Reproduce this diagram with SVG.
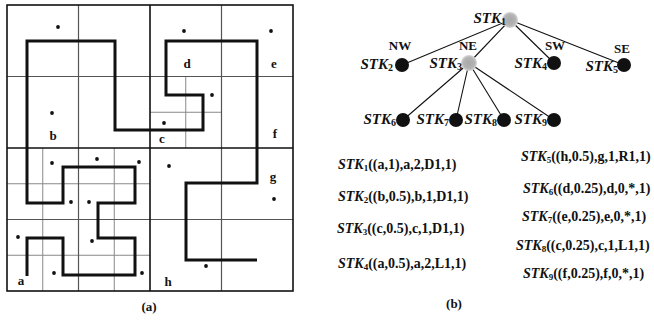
<svg xmlns="http://www.w3.org/2000/svg" width="654" height="320" viewBox="0 0 654 320">
  <style>
    text { font-family: "Liberation Serif", "DejaVu Serif", serif; font-weight: bold; fill: #111; }
    .lbl { font-size: 13px; text-anchor: middle; }
    .stk { font-size: 14px; }
    .node { font-size: 15px; text-anchor: end; }
    .it { font-style: italic; }
    .g1 { stroke: #111; stroke-width: 1.6; fill: none; }
    .g2 { stroke: #555; stroke-width: 1.2; fill: none; }
    .g3 { stroke: #888; stroke-width: 1; fill: none; }
    .curve { stroke: #111; stroke-width: 3; fill: none; stroke-linejoin: miter; }
    .pt { fill: #111; }
    .edge { stroke: #111; stroke-width: 1.1; fill: none; }
    .leaf { fill: #111; }
    .inner { fill: url(#grayNode); }
  </style>
  <defs>
    <radialGradient id="grayNode">
      <stop offset="0" stop-color="#a8a8a8"/>
      <stop offset="0.7" stop-color="#b4b4b4"/>
      <stop offset="1" stop-color="#d8d8d8"/>
    </radialGradient>
  </defs>
  <rect width="654" height="320" fill="#fff"/>

  <!-- (a) quadtree partition with the space-filling curve -->
  <g id="partition">
    <g id="grid">
      <path class="g3" d="M185.75,76.5 V148 M150,112.25 H221.5 M42.75,148 V291 M114.25,148 V291 M7,183.75 H150 M7,255.25 H150"/>
      <path class="g2" d="M78.5,5 V291 M221.5,5 V291 M7,76.5 H293 M7,219.5 H293"/>
      <path class="g1" d="M150,5 V291 M7,148 H293"/>
      <rect class="g1" x="7" y="5" width="286" height="286"/>
    </g>
    <path id="curve" class="curve" d="M27,276 V238 H63 V275 H135 V238 H98 V203 H135 V167 H63 V203 H27 V41 H115 V130 H203 V95 H166 V41 H257 V183 H186 V260 H257"/>
    <g id="points">
      <circle class="pt" cx="58" cy="27" r="1.9"/>
      <circle class="pt" cx="52" cy="113" r="1.9"/>
      <circle class="pt" cx="184" cy="31" r="1.9"/>
      <circle class="pt" cx="271" cy="31" r="1.9"/>
      <circle class="pt" cx="212" cy="95" r="1.9"/>
      <circle class="pt" cx="164" cy="123" r="1.9"/>
      <circle class="pt" cx="52" cy="163" r="1.9"/>
      <circle class="pt" cx="97" cy="159" r="1.9"/>
      <circle class="pt" cx="139" cy="162" r="1.9"/>
      <circle class="pt" cx="71" cy="202" r="1.9"/>
      <circle class="pt" cx="89" cy="202" r="1.9"/>
      <circle class="pt" cx="18" cy="237" r="1.9"/>
      <circle class="pt" cx="92" cy="241" r="1.9"/>
      <circle class="pt" cx="54" cy="273" r="1.9"/>
      <circle class="pt" cx="142" cy="273" r="1.9"/>
      <circle class="pt" cx="169" cy="166" r="1.9"/>
      <circle class="pt" cx="274" cy="199" r="1.9"/>
      <circle class="pt" cx="206" cy="266" r="1.9"/>
    </g>
    <g id="cell-labels">
      <text class="lbl" x="21" y="285">a</text>
      <text class="lbl" x="53" y="140">b</text>
      <text class="lbl" x="162" y="143">c</text>
      <text class="lbl" x="187" y="68">d</text>
      <text class="lbl" x="274" y="68">e</text>
      <text class="lbl" x="275" y="138">f</text>
      <text class="lbl" x="273" y="181">g</text>
      <text class="lbl" x="168" y="286">h</text>
    </g>
    <text class="lbl" x="149" y="311">(a)</text>
  </g>

  <!-- (b) tree of STK nodes -->
  <g id="connectors">
    <path class="edge" d="M510,20 L402,65 M510,20 L469,63 M510,20 L554,63 M510,20 L624,65"/>
    <path class="edge" d="M469,63 L403,120 M469,63 L456,120 M469,63 L504,120 M469,63 L554,120"/>
  </g>

  <g id="stk1">
    <circle class="inner" cx="510" cy="20" r="8"/>
    <text class="node" x="506" y="23"><tspan class="it">STK</tspan><tspan font-size="10" dy="2">1</tspan></text>
  </g>
  <g id="stk2">
    <circle class="leaf" cx="402" cy="65" r="7"/>
    <text class="lbl" x="400" y="50">NW</text>
    <text class="node" x="393" y="69"><tspan class="it">STK</tspan><tspan font-size="10" dy="2">2</tspan></text>
  </g>
  <g id="stk3">
    <circle class="inner" cx="469" cy="63" r="8"/>
    <text class="lbl" x="468" y="50">NE</text>
    <text class="node" x="462" y="68"><tspan class="it">STK</tspan><tspan font-size="10" dy="2">3</tspan></text>
  </g>
  <g id="stk4">
    <circle class="leaf" cx="554" cy="63" r="7"/>
    <text class="lbl" x="555" y="50">SW</text>
    <text class="node" x="547" y="68"><tspan class="it">STK</tspan><tspan font-size="10" dy="2">4</tspan></text>
  </g>
  <g id="stk5">
    <circle class="leaf" cx="624" cy="65" r="7"/>
    <text class="lbl" x="622" y="53">SE</text>
    <text class="node" x="618" y="71"><tspan class="it">STK</tspan><tspan font-size="10" dy="2">5</tspan></text>
  </g>
  <g id="stk6">
    <circle class="leaf" cx="403" cy="120" r="7"/>
    <text class="node" x="396" y="124"><tspan class="it">STK</tspan><tspan font-size="10" dy="2">6</tspan></text>
  </g>
  <g id="stk7">
    <circle class="leaf" cx="456" cy="120" r="7"/>
    <text class="node" x="449" y="124"><tspan class="it">STK</tspan><tspan font-size="10" dy="2">7</tspan></text>
  </g>
  <g id="stk8">
    <circle class="leaf" cx="504" cy="120" r="7"/>
    <text class="node" x="497" y="124"><tspan class="it">STK</tspan><tspan font-size="10" dy="2">8</tspan></text>
  </g>
  <g id="stk9">
    <circle class="leaf" cx="554" cy="120" r="7"/>
    <text class="node" x="547" y="124"><tspan class="it">STK</tspan><tspan font-size="10" dy="2">9</tspan></text>
  </g>

  <!-- node records -->
  <g id="records">
    <text class="stk" x="338" y="169"><tspan class="it">STK</tspan><tspan font-size="9" dy="2">1</tspan><tspan dy="-2">((a,1),a,2,D1,1)</tspan></text>
    <text class="stk" x="338" y="201"><tspan class="it">STK</tspan><tspan font-size="9" dy="2">2</tspan><tspan dy="-2">((b,0.5),b,1,D1,1)</tspan></text>
    <text class="stk" x="337" y="233"><tspan class="it">STK</tspan><tspan font-size="9" dy="2">3</tspan><tspan dy="-2">((c,0.5),c,1,D1,1)</tspan></text>
    <text class="stk" x="338" y="268"><tspan class="it">STK</tspan><tspan font-size="9" dy="2">4</tspan><tspan dy="-2">((a,0.5),a,2,L1,1)</tspan></text>
    <text class="stk" x="521" y="161"><tspan class="it">STK</tspan><tspan font-size="9" dy="2">5</tspan><tspan dy="-2">((h,0.5),g,1,R1,1)</tspan></text>
    <text class="stk" x="523" y="193"><tspan class="it">STK</tspan><tspan font-size="9" dy="2">6</tspan><tspan dy="-2">((d,0.25),d,0,*,1)</tspan></text>
    <text class="stk" x="522" y="221"><tspan class="it">STK</tspan><tspan font-size="9" dy="2">7</tspan><tspan dy="-2">((e,0.25),e,0,*,1)</tspan></text>
    <text class="stk" x="516" y="250"><tspan class="it">STK</tspan><tspan font-size="9" dy="2">8</tspan><tspan dy="-2">((c,0.25),c,1,L1,1)</tspan></text>
    <text class="stk" x="523" y="278"><tspan class="it">STK</tspan><tspan font-size="9" dy="2">9</tspan><tspan dy="-2">((f,0.25),f,0,*,1)</tspan></text>
  </g>
  <text class="lbl" x="454" y="308">(b)</text>
</svg>
